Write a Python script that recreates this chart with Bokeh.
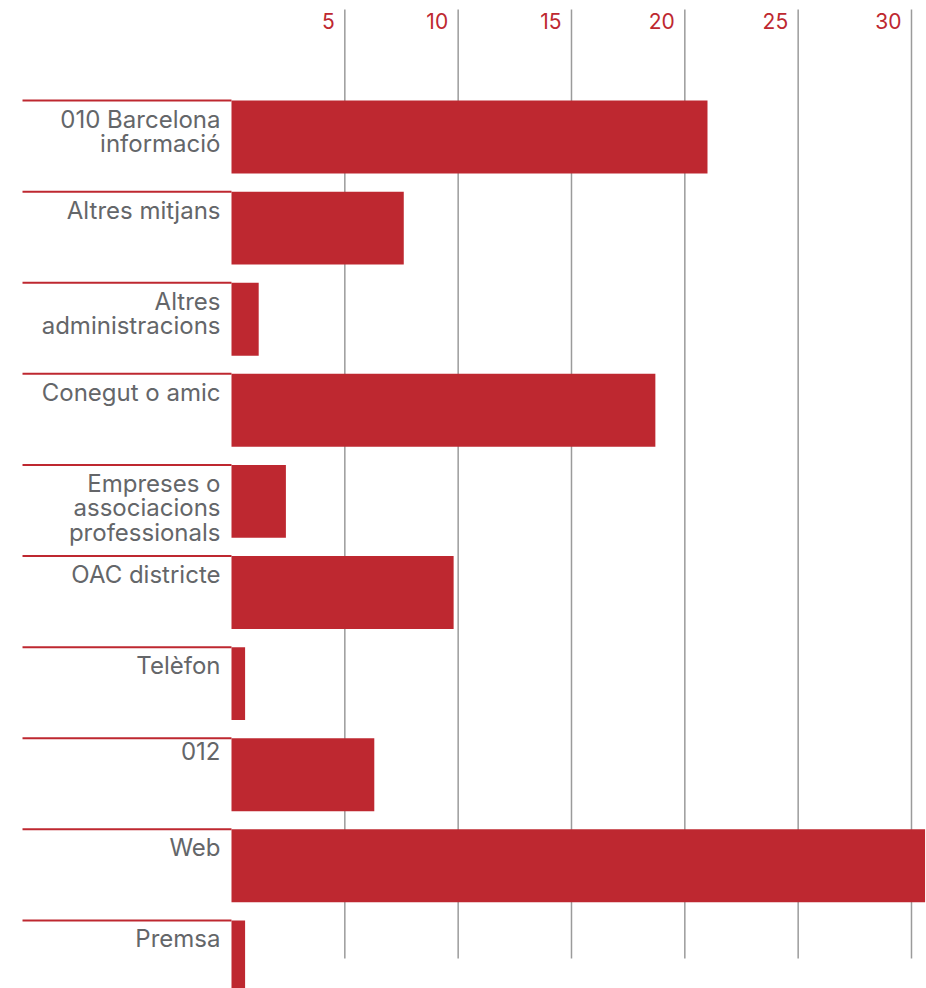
from bokeh.plotting import figure
from bokeh.models import Range1d, ColumnDataSource
from bokeh.core.properties import value
from bokeh.embed import file_html
from bokeh.resources import INLINE

# ---- data ----
categories = [
    "010 Barcelona\ninformació",
    "Altres mitjans",
    "Altres\nadministracions",
    "Conegut o amic",
    "Empreses o\nassociacions\nprofessionals",
    "OAC districte",
    "Telèfon",
    "012",
    "Web",
    "Premsa",
]
values = [21.0, 7.6, 1.2, 18.7, 2.4, 9.8, 0.6, 6.3, 30.6, 0.6]
ticks = [5, 10, 15, 20, 25, 30]
tick_labels = ["5", "10", "15", "20", "25", "30"]

RED = "#be2830"
GREY_TEXT = "#646669"
GRID = "#9b9b9b"
FONT = "Inter"

idx = list(range(len(categories)))
bar_h = 0.8
tops = [i - bar_h / 2 for i in idx]

src = ColumnDataSource(dict(y=idx, top=tops, v=values, label=categories))

p = figure(
    width=926, height=988,
    x_range=Range1d(-10.191, 30.662),
    y_range=Range1d(9.347, -1.4984),
    output_backend="svg", toolbar_location=None,
    x_axis_location=None, y_axis_location=None,
    min_border=0, min_border_left=0, min_border_right=0,
    min_border_top=0, min_border_bottom=0,
)
p.outline_line_color = None
p.grid.visible = False
p.background_fill_color = "white"
p.border_fill_color = "white"

# vertical grid lines
p.segment(x0=ticks, y0=[-1.3996] * len(ticks), x1=ticks, y1=[9.018] * len(ticks),
          line_color=GRID, line_width=1.5)

# bars
p.hbar(y="y", left=0, right="v", height=bar_h, source=src,
       fill_color=RED, line_color=None)

# red rules above each label
p.segment(x0=-9.22, y0="top", x1=0, y1="top", source=src,
          line_color=RED, line_width=2)

# category labels
p.text(x=0, y="top", text="label", source=src,
       text_align="right", text_baseline="top",
       x_offset=-11, y_offset=4,
       text_font=value(FONT), text_font_size="24px",
       text_color=GREY_TEXT, text_line_height=0.84)

# tick labels (top)
p.text(x=ticks, y=[-1.27] * len(ticks), text=tick_labels,
       text_align="right", text_baseline="alphabetic", x_offset=-10,
       text_font=value(FONT), text_font_size="21px", text_color=RED)

open("out.html", "w").write(file_html(p, INLINE))
